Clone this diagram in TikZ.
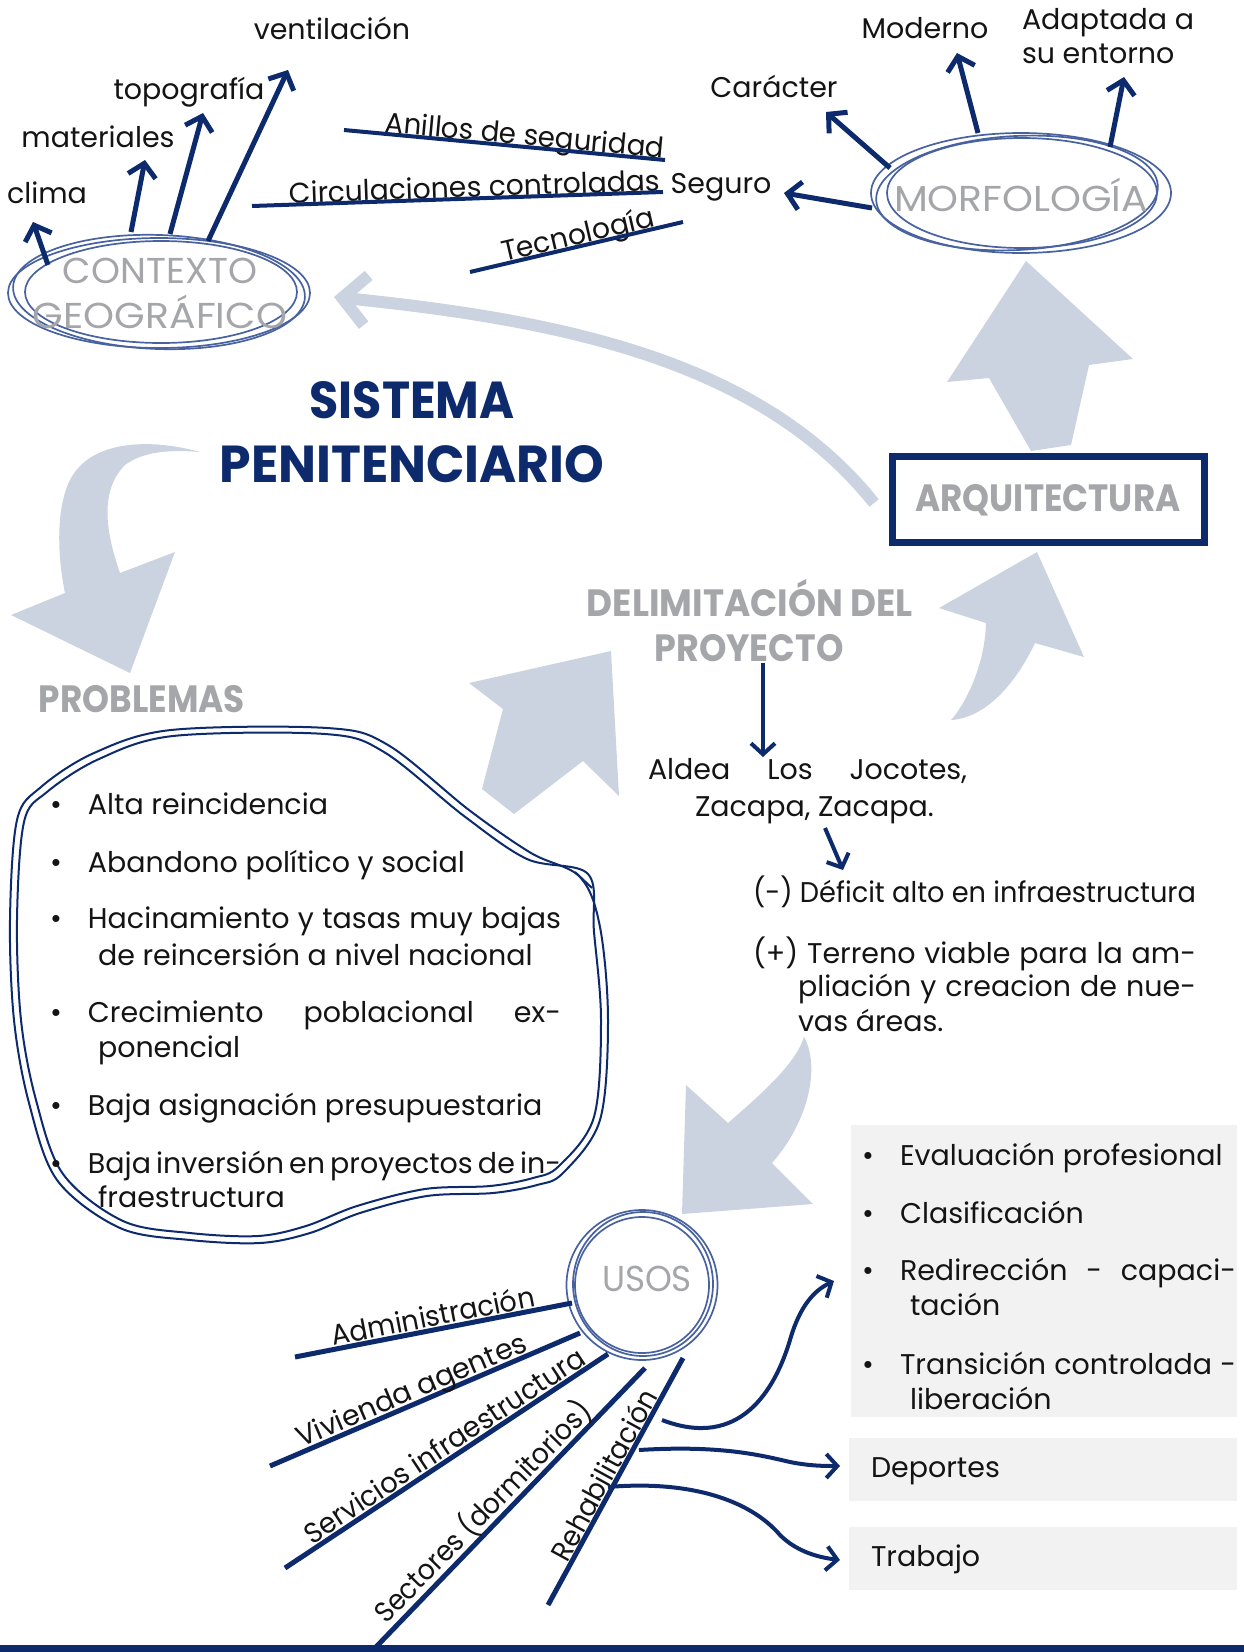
\documentclass[tikz,border=0pt]{standalone}
\usepackage{fontspec}
\setmainfont{Poppins}
\usepackage{graphicx}
\usetikzlibrary{arrows.meta}
\definecolor{navy}{RGB}{12,42,108}
\definecolor{lightarr}{RGB}{203,211,225}
\definecolor{graytxt}{RGB}{165,166,170}
\definecolor{ellblue}{RGB}{72,98,160}
\definecolor{boxgray}{RGB}{242,242,242}
\definecolor{ink}{RGB}{20,20,20}
\newcommand\fitto[2]{\resizebox{#1}{\height}{#2}}
\begin{document}
\begin{tikzpicture}[x=1pt,y=-1pt,
 lbl/.style={font=\fontsize{28.5}{34}\selectfont, text=ink, inner sep=0pt, outer sep=0pt},
 headg/.style={font=\fontsize{38}{44}\selectfont\bfseries, text=graytxt, inner sep=0pt},
 ringtxt/.style={font=\fontsize{36}{42}\selectfont, text=graytxt, inner sep=0pt},
 titl/.style={font=\fontsize{52}{60}\selectfont\bfseries, text=navy, inner sep=0pt},
 ring/.style={draw=ellblue, line width=1.7pt},
 narrow/.style={draw=navy, line width=5pt, -{Straight Barb[length=13pt,width=28pt]}},
 sarrow/.style={draw=navy, line width=4pt, -{Straight Barb[length=11pt,width=24pt]}},
 strike/.style={draw=navy, line width=4pt},
 ray/.style={draw=navy, line width=5pt},
 bigarr/.style={fill=lightarr, draw=none},
 blob/.style={draw=navy, line width=2pt},
]
\useasboundingbox (0,0) rectangle (1244,1652);
\fill[white] (0,0) rectangle (1244,1652);

% ---------- big light arrows ----------
\fill[bigarr] (1026,261) -- (1133,359) -- (1089,365) -- (1071,445) -- (1031,451) -- (989,378) -- (947,382) -- cycle;
\fill[bigarr] (469,683) -- (611,651) -- (619,796) -- (583,761) -- (514,814) -- (482,789) -- (503,709) -- cycle;
\fill[bigarr] (200,452) .. controls (150,438) and (90,440) .. (70,480) .. controls (55,510) and (58,560) .. (65,593) -- (11,615) -- (130,673) -- (175,552) -- (120,573) .. controls (105,530) and (100,490) .. (125,465) .. controls (145,450) and (175,450) .. (200,452) -- cycle;
\fill[bigarr] (1037,552) -- (1084,657) -- (1035,643) .. controls (1015,685) and (985,718) .. (951,720) .. controls (965,705) and (985,665) .. (986,623) -- (939,608) -- cycle;
\fill[bigarr] (804,1037) .. controls (820,1065) and (810,1120) .. (772,1163) -- (813,1204) -- (682,1214) -- (686,1085) -- (728,1123) .. controls (760,1095) and (795,1065) .. (804,1037) -- cycle;

% ---------- gray boxes ----------
\fill[boxgray] (851,1125) rectangle (1237,1417);
\fill[boxgray] (849,1438) rectangle (1237,1501);
\fill[boxgray] (849,1527) rectangle (1237,1590);
\fill[navy] (0,1645) rectangle (1244,1652);

% ---------- CONTEXTO GEOGRAFICO ----------
\draw[ring] (159,293) ellipse [x radius=151, y radius=55];
\draw[ring, rotate around={-2:(159,292)}] (159,292) ellipse [x radius=146, y radius=57];
\draw[ring] (161,292) ellipse [x radius=136, y radius=51];
\node[ringtxt, anchor=base] (ctx1) at (160,283) {\fitto{194pt}{CONTEXTO}};
\node[ringtxt, anchor=base] (ctx2) at (160,328) {\fitto{254pt}{GEOGRÁFICO}};

\node[lbl, anchor=base] (vent) at (332,39) {ventilación};
\node[lbl, anchor=base] (topo) at (189,99) {topografía};
\node[lbl, anchor=base] (mate) at (98,147) {materiales};
\node[lbl, anchor=base] (clim) at (47,203) {clima};

\coordinate (c1s) at (48,265); \coordinate (c1e) at (33,222);
\coordinate (c2s) at (131,232); \coordinate (c2e) at (145,160);
\coordinate (c3s) at (170,234); \coordinate (c3e) at (203,113);
\coordinate (c4s) at (208,241); \coordinate (c4e) at (288,70);
\draw[narrow] (c1s) -- (c1e);
\draw[narrow] (c2s) -- (c2e);
\draw[narrow] (c3s) -- (c3e);
\draw[narrow] (c4s) -- (c4e);

% ---------- struck labels ----------
\coordinate (a1s) at (344,130); \coordinate (a1e) at (665,160);
\coordinate (a2s) at (252,206); \coordinate (a2e) at (663,192);
\coordinate (a3s) at (470,272); \coordinate (a3e) at (683,222);
\node[lbl, anchor=base, rotate=-5.3] (anil) at (524,145) {\fitto{280pt}{Anillos de seguridad}};
\node[lbl, anchor=base, rotate=2] (circ) at (475,197) {\fitto{371pt}{Circulaciones controladas}};
\node[lbl, anchor=base, rotate=13.2] (tecn) at (580,244) {\fitto{156pt}{Tecnología}};
\draw[strike] (a1s) -- (a1e);
\draw[strike] (a2s) -- (a2e);
\draw[strike] (a3s) -- (a3e);
\node[lbl, anchor=base] (segu) at (721,193) {Seguro};

% ---------- MORFOLOGIA ----------
\draw[ring] (1021,193) ellipse [x radius=150, y radius=60];
\draw[ring, rotate around={3:(1017,193)}] (1017,193) ellipse [x radius=141, y radius=57];
\draw[ring] (1022,193) ellipse [x radius=135, y radius=55];
\node[ringtxt, anchor=base] (morf) at (1021,211) {\fitto{254pt}{MORFOLOGÍA}};
\node[lbl, anchor=base] (cara) at (774,97) {Carácter};
\node[lbl, anchor=base] (mode) at (925,38) {Moderno};
\node[lbl, anchor=base west] (adap1) at (1022,29) {Adaptada a};
\node[lbl, anchor=base west] (adap2) at (1022,63) {su entorno};
\coordinate (m1s) at (872,208); \coordinate (m1e) at (784,193);
\coordinate (m2s) at (890,168); \coordinate (m2e) at (826,112);
\coordinate (m3s) at (978,133); \coordinate (m3e) at (957,53);
\coordinate (m4s) at (1110,147); \coordinate (m4e) at (1124,77);
\draw[narrow] (m1s) -- (m1e);
\draw[narrow] (m2s) -- (m2e);
\draw[narrow] (m3s) -- (m3e);
\draw[narrow] (m4s) -- (m4e);

% ---------- title ----------
\node[titl, anchor=base] (tit1) at (412,418) {\fitto{205pt}{SISTEMA}};
\node[titl, anchor=base] (tit2) at (412,482) {\fitto{385pt}{PENITENCIARIO}};

% ---------- ARQUITECTURA ----------
\node[draw=navy, line width=7pt, minimum width=312pt, minimum height=86pt, inner sep=0pt] (arq) at (1048,499) {};
\node[headg, anchor=base] (arqt) at (1048,511) {\fitto{265pt}{ARQUITECTURA}};
\coordinate (arqout) at (874,503);
\coordinate (ctxin) at (334,297);
\draw[draw=lightarr, line width=12pt, -{Straight Barb[length=24pt,width=50pt]}] (arqout) .. controls (760,360) and (560,320) .. (ctxin);

% ---------- PROBLEMAS ----------
\node[headg, anchor=base] (prob) at (142,712) {\fitto{206pt}{PROBLEMAS}};
\draw[blob] plot[smooth cycle, tension=0.55] coordinates {(17,820) (41,787) (94,753) (171,730) (327,728) (388,745) (469,810) (531,853) (580,877) (600,927) (608,1020) (600,1120) (563,1173) (537,1185) (493,1193) (427,1196) (360,1213) (310,1233) (260,1243) (190,1240) (120,1228) (57,1180) (29,1103) (14,1020) (10,920)};
\draw[blob] plot[smooth cycle, tension=0.55] coordinates {(24,822) (47,792) (99,759) (173,736) (325,734) (384,752) (464,816) (527,859) (588,874) (594,932) (601,1020) (594,1117) (559,1166) (533,1178) (490,1186) (425,1189) (357,1206) (306,1226) (258,1236) (190,1233) (123,1221) (63,1174) (36,1100) (21,1020) (17,920)};
\draw[blob] (575,872) -- (592,888);
\node[lbl, anchor=base west] (p1) at (50,814) {\makebox[38pt][l]{\textbullet}Alta reincidencia};
\node[lbl, anchor=base west] (p2) at (50,872) {\makebox[38pt][l]{\textbullet}Abandono político y social};
\node[lbl, anchor=base west] (p3a) at (50,928) {\makebox[38pt][l]{\textbullet}\makebox[473pt][s]{Hacinamiento y tasas muy bajas}};
\node[lbl, anchor=base west] (p3b) at (98,965) {de reincersión a nivel nacional};
\node[lbl, anchor=base west] (p4a) at (50,1022) {\makebox[38pt][l]{\textbullet}\makebox[473pt][s]{Crecimiento poblacional ex-}};
\node[lbl, anchor=base west] (p4b) at (98,1057) {ponencial};
\node[lbl, anchor=base west] (p5) at (50,1115) {\makebox[38pt][l]{\textbullet}Baja asignación presupuestaria};
\node[lbl, anchor=base west] (p6a) at (50,1173) {\makebox[38pt][l]{\textbullet}\makebox[473pt][s]{Baja inversión en proyectos de in-}};
\node[lbl, anchor=base west] (p6b) at (98,1207) {fraestructura};

% ---------- DELIMITACION ----------
\node[headg, anchor=base] (del1) at (750,616) {\fitto{326pt}{DELIMITACIÓN DEL}};
\node[headg, anchor=base] (del2) at (749,661) {\fitto{189pt}{PROYECTO}};
\coordinate (d1s) at (763,663); \coordinate (d1e) at (763,757);
\draw[sarrow] (d1s) -- (d1e);
\node[lbl, anchor=base west] (ald1) at (648,779) {\makebox[319pt][s]{Aldea Los Jocotes,}};
\node[lbl, anchor=base west] (ald2) at (695,816) {Zacapa, Zacapa.};
\coordinate (d2s) at (825,828); \coordinate (d2e) at (843,870);
\draw[sarrow] (d2s) -- (d2e);
\node[lbl, anchor=base west] (def) at (753,902) {\fitto{443pt}{(-) Déficit alto en infraestructura}};
\node[lbl, anchor=base west] (ter1) at (753,963) {\makebox[443pt][s]{(+) Terreno viable para la am-}};
\node[lbl, anchor=base west] (ter2) at (798,996) {\makebox[398pt][s]{pliación y creacion de nue-}};
\node[lbl, anchor=base west] (ter3) at (798,1031) {vas áreas.};

% ---------- USOS ----------
\draw[ring] (642,1285) ellipse [x radius=75.5, y radius=75];
\draw[ring] (643,1284) ellipse [x radius=70, y radius=72];
\draw[ring] (642,1285) ellipse [x radius=67, y radius=68];
\node[ringtxt, anchor=base] (usos) at (647,1291) {\fitto{90pt}{USOS}};

\coordinate (u1s) at (572,1303); \coordinate (u1e) at (295,1357);
\coordinate (u2s) at (580,1333); \coordinate (u2e) at (270,1466);
\coordinate (u3s) at (608,1354); \coordinate (u3e) at (285,1568);
\coordinate (u4s) at (645,1368); \coordinate (u4e) at (375,1648);
\coordinate (u5s) at (683,1358); \coordinate (u5e) at (548,1605);
\draw[ray] (u1s) -- (u1e);
\draw[ray] (u2s) -- (u2e);
\draw[ray] (u3s) -- (u3e);
\draw[ray] (u4s) -- (u4e);
\draw[ray] (u5s) -- (u5e);
\node[lbl, anchor=base, rotate=11] (us1) at (435,1326) {\fitto{206pt}{Administración}};
\node[lbl, anchor=base, rotate=23.2] (us2) at (415,1399) {\fitto{248pt}{Vivienda agentes}};
\node[lbl, anchor=base, rotate=33.5] (us3) at (450,1454) {\fitto{330pt}{Servicios infraestructura}};
\node[lbl, anchor=base, rotate=45.7] (us4) at (490,1519) {\fitto{296pt}{Sectores (dormitorios)}};
\node[lbl, anchor=base, rotate=61.3] (us5) at (613,1480) {\fitto{190pt}{Rehabilitación}};

% ---------- right lists ----------
\node[lbl, anchor=base west] (b1) at (862,1165) {\makebox[38pt][l]{\textbullet}Evaluación profesional};
\node[lbl, anchor=base west] (b2) at (862,1223) {\makebox[38pt][l]{\textbullet}Clasificación};
\node[lbl, anchor=base west] (b3a) at (862,1280) {\makebox[38pt][l]{\textbullet}\makebox[336pt][s]{Redirección - capaci-}};
\node[lbl, anchor=base west] (b3b) at (910,1315) {tación};
\node[lbl, anchor=base west] (b4a) at (862,1374) {\makebox[38pt][l]{\textbullet}\makebox[336pt][s]{Transición controlada -}};
\node[lbl, anchor=base west] (b4b) at (910,1409) {liberación};
\node[lbl, anchor=base west] (dep) at (871,1477) {Deportes};
\node[lbl, anchor=base west] (trab) at (871,1566) {Trabajo};

\coordinate (r1s) at (662,1420); \coordinate (r1e) at (834,1281);
\coordinate (r2s) at (639,1450); \coordinate (r2e) at (840,1466);
\coordinate (r3s) at (608,1487); \coordinate (r3e) at (840,1560);
\draw[sarrow] (r1s) .. controls (740,1450) and (775,1390) .. (790,1340) .. controls (800,1305) and (815,1290) .. (r1e);
\draw[sarrow] (r2s) .. controls (720,1445) and (760,1455) .. (790,1462) .. controls (810,1466) and (825,1466) .. (r2e);
\draw[sarrow] (r3s) .. controls (690,1480) and (750,1500) .. (780,1535) .. controls (795,1550) and (815,1557) .. (r3e);
\end{tikzpicture}
\end{document}
